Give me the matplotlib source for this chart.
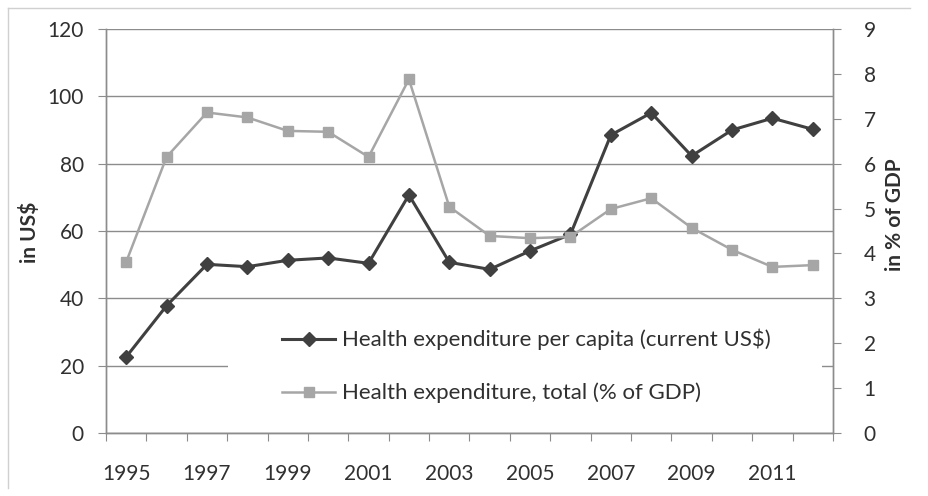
import matplotlib
matplotlib.use("Agg")
import matplotlib.pyplot as plt
from matplotlib.patches import Rectangle
from matplotlib.lines import Line2D

plt.rcParams['font.family'] = ['Lato', 'DejaVu Sans']

years = list(range(1995, 2013))
per_capita_usd = [22.6, 37.8, 50.1, 49.4, 51.3, 52.0, 50.4, 70.7, 50.7, 48.6,
                  54.1, 59.0, 88.5, 95.1, 82.3, 90.0, 93.5, 90.2]
total_pct_gdp = [3.81, 6.15, 7.14, 7.03, 6.73, 6.71, 6.15, 7.88, 5.04, 4.39,
                 4.34, 4.37, 4.99, 5.23, 4.57, 4.08, 3.70, 3.74]
label_per_capita = "Health expenditure per capita (current US$)"
label_total = "Health expenditure, total (% of GDP)"

dark = "#404040"
light = "#a6a6a6"
axis_col = "#8c8c8c"
text_col = "#303030"
fs = 15

fig = plt.figure(figsize=(9.29, 4.96), dpi=100)
# thin frame along the top and left edges
fig.add_artist(Line2D([8 / 929, 8 / 929], [8 / 496, 1 - 8 / 496],
                      transform=fig.transFigure, color="#d0d0d0", linewidth=1.0))
fig.add_artist(Line2D([8 / 929, 910 / 929], [1 - 8 / 496, 1 - 8 / 496],
                      transform=fig.transFigure, color="#d0d0d0", linewidth=1.0))

ax = fig.add_axes([106 / 929, 1 - 433 / 496, 727 / 929, 404 / 496])
ax2 = ax.twinx()

x = list(range(len(years)))
ax.set_xlim(-0.5, len(years) - 0.5)
ax.set_ylim(0, 120)
ax2.set_ylim(0, 9)

# category boundary ticks, labels on every other year
ax.set_xticks([i - 0.5 for i in range(len(years) + 1)])
ax.set_xticklabels([])
ax.set_xticks(x[::2], minor=True)
ax.set_xticklabels([str(y) for y in years[::2]], minor=True, fontsize=fs,
                   color=text_col)
ax.tick_params(axis="x", which="major", length=6, color=axis_col, direction="out")
ax.tick_params(axis="x", which="minor", length=0, pad=22)

ax.set_yticks(range(0, 121, 20))
ax.tick_params(axis="y", length=6, color=axis_col, labelsize=fs,
               labelcolor=text_col, pad=10)
ax2.set_yticks(range(0, 10))
ax2.tick_params(axis="y", length=6, color=axis_col, labelsize=fs,
                labelcolor=text_col, pad=16)

for a in (ax, ax2):
    a.spines["top"].set_visible(False)
    for side in ("left", "right", "bottom"):
        a.spines[side].set_color(axis_col)
        a.spines[side].set_linewidth(1.0)

ax.yaxis.grid(True, color=axis_col, linewidth=1.0)
ax.set_axisbelow(True)

# white legend panel covering part of the grid
ax.add_patch(Rectangle((228 / 929, 1 - 422 / 496), 594 / 929, 119 / 496,
                       transform=fig.transFigure, facecolor="white",
                       edgecolor="none", zorder=1.8))

ax.plot(x, per_capita_usd, color=dark, linewidth=2.2, marker="D",
        markersize=7, zorder=3)
ax2.plot(x, total_pct_gdp, color=light, linewidth=1.8, marker="s",
         markersize=7, zorder=3)

handles = [
    Line2D([], [], color=dark, linewidth=2.2, marker="D", markersize=7),
    Line2D([], [], color=light, linewidth=1.8, marker="s", markersize=7),
]
ax2.legend(handles, [label_per_capita, label_total], loc="upper left",
           bbox_to_anchor=(282 / 929, 1 - 329 / 496),
           bbox_transform=fig.transFigure, frameon=False, fontsize=16,
           handlelength=2.4, handletextpad=0.3, labelspacing=1.45,
           labelcolor=text_col, borderaxespad=0, borderpad=0)

fig.text(30 / 929, 1 - 232 / 496, "in US$", rotation=90, ha="center",
         va="center", fontsize=fs, fontweight="bold", color=text_col)
fig.text(895 / 929, 1 - 215 / 496, "in % of GDP", rotation=90, ha="center",
         va="center", fontsize=fs, fontweight="bold", color=text_col)

fig.savefig("out.png", dpi=100)
